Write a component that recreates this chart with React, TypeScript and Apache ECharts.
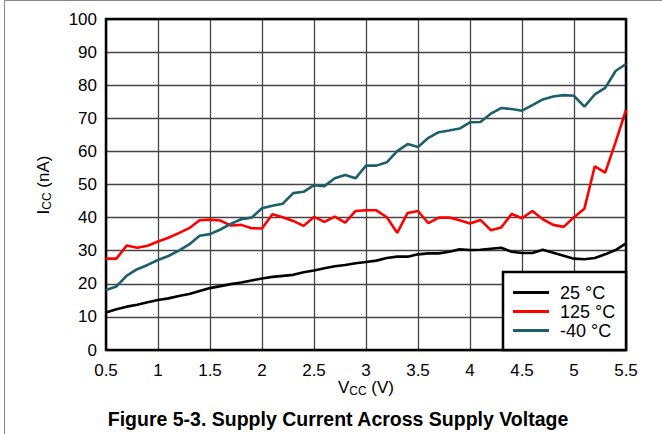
import React, { useEffect, useRef } from "react";
import * as echarts from "echarts";

const voltages = [
  0.5, 0.6, 0.7, 0.8, 0.9, 1.0, 1.1, 1.2, 1.3, 1.4,
  1.5, 1.6, 1.7, 1.8, 1.9, 2.0, 2.1, 2.2, 2.3, 2.4,
  2.5, 2.6, 2.7, 2.8, 2.9, 3.0, 3.1, 3.2, 3.3, 3.4,
  3.5, 3.6, 3.7, 3.8, 3.9, 4.0, 4.1, 4.2, 4.3, 4.4,
  4.5, 4.6, 4.7, 4.8, 4.9, 5.0, 5.1, 5.2, 5.3, 5.4, 5.5,
];

const icc25 = [
  11.3, 12.3, 13.1, 13.7, 14.4, 15.1, 15.6, 16.3, 16.9, 17.8,
  18.7, 19.3, 19.9, 20.4, 21.0, 21.6, 22.1, 22.4, 22.7, 23.5,
  24.0, 24.7, 25.3, 25.7, 26.2, 26.6, 27.0, 27.8, 28.2, 28.2,
  28.9, 29.2, 29.2, 29.7, 30.4, 30.2, 30.3, 30.6, 30.9, 29.7,
  29.3, 29.3, 30.3, 29.4, 28.5, 27.6, 27.4, 27.8, 28.9, 30.2, 32.2,
];

const icc125 = [
  27.6, 27.6, 31.6, 30.9, 31.5, 32.8, 33.9, 35.3, 36.8, 39.2,
  39.4, 39.1, 37.6, 37.8, 36.8, 36.7, 41.0, 40.1, 39.0, 37.5,
  40.2, 38.7, 40.3, 38.5, 42.0, 42.2, 42.2, 40.1, 35.4, 41.4,
  42.0, 38.3, 40.0, 40.0, 39.2, 38.2, 39.3, 36.2, 37.0, 41.1,
  39.8, 42.0, 39.5, 37.8, 37.2, 40.1, 42.7, 55.5, 53.6, 62.8, 72.5,
];

const iccM40 = [
  18.1, 19.2, 22.5, 24.4, 25.7, 27.2, 28.4, 30.0, 31.9, 34.5,
  35.0, 36.4, 38.1, 39.5, 40.0, 42.8, 43.6, 44.2, 47.4, 47.8,
  49.8, 49.5, 51.9, 52.9, 51.9, 55.7, 55.7, 56.7, 60.1, 62.2,
  61.3, 64.1, 65.8, 66.3, 66.9, 68.8, 68.9, 71.4, 73.1, 72.8,
  72.3, 74.0, 75.7, 76.6, 77.0, 76.8, 73.5, 77.2, 79.2, 84.3, 86.4,
];

const seriesNames = ["25 °C", "125 °C", "-40 °C"];
const seriesColors = ["#000000", "#ff0000", "#1b5f6d"];

const FONT = "'Liberation Sans', Arial, sans-serif";

export default function App() {
  const ref = useRef<HTMLDivElement>(null);

  useEffect(() => {
    if (!ref.current) return;
    const chart = echarts.init(ref.current, null, { renderer: "svg" });
    const mk = (vals: number[]) => voltages.map((v, i) => [v, vals[i]]);
    const allData = [icc25, icc125, iccM40];

    chart.setOption({
      animation: false,
      backgroundColor: "#ffffff",
      textStyle: { fontFamily: FONT },
      grid: {
        left: 106,
        top: 19,
        width: 520,
        height: 331,
        show: true,
        borderColor: "#000",
        borderWidth: 2.5,
        z: 3,
      },
      xAxis: {
        type: "value",
        min: 0.5,
        max: 5.5,
        interval: 0.5,
        axisLine: { show: false },
        axisTick: { show: false },
        axisLabel: { color: "#000", fontSize: 17, margin: 12, fontFamily: FONT },
        splitLine: { show: true, lineStyle: { color: "#444", width: 1.3 } },
      },
      yAxis: {
        type: "value",
        min: 0,
        max: 100,
        interval: 10,
        axisLine: { show: false },
        axisTick: { show: false },
        axisLabel: { color: "#000", fontSize: 17, margin: 9, fontFamily: FONT },
        splitLine: { show: true, lineStyle: { color: "#444", width: 1.3 } },
      },
      legend: {
        orient: "vertical",
        left: 513,
        top: 283,
        padding: 0,
        itemGap: 0,
        itemWidth: 36,
        itemHeight: 3,
        icon: "rect",
        z: 20,
        textStyle: { color: "#000", fontSize: 18, lineHeight: 19, fontFamily: FONT, padding: [0, 0, 0, 6] },
        data: seriesNames,
      },
      graphic: [
        {
          type: "line",
          shape: { x1: 4.5, y1: 0, x2: 4.5, y2: 434 },
          style: { stroke: "#888", lineWidth: 1 },
        },
        {
          type: "line",
          shape: { x1: 4, y1: 0.5, x2: 662, y2: 0.5 },
          style: { stroke: "#888", lineWidth: 1 },
        },
        {
          type: "rect",
          z: 10,
          shape: { x: 503, y: 272, width: 123, height: 78 },
          style: { fill: "#fff", stroke: "#000", lineWidth: 2.5 },
        },
        {
          type: "text",
          x: 366,
          y: 387,
          style: {
            text: "{n|V}{s|CC}{n| (V)}",
            align: "center",
            verticalAlign: "middle",
            fill: "#000",
            fontFamily: FONT,
            rich: {
              n: { fontSize: 17, fontFamily: FONT, lineHeight: 20 },
              s: { fontSize: 12, fontFamily: FONT, verticalAlign: "bottom", lineHeight: 14 },
            },
          },
        },
        {
          type: "text",
          x: 43,
          y: 185,
          rotation: Math.PI / 2,
          style: {
            text: "{n|I}{s|CC}{n| (nA)}",
            align: "center",
            verticalAlign: "middle",
            fill: "#000",
            fontFamily: FONT,
            rich: {
              n: { fontSize: 17, fontFamily: FONT, lineHeight: 20 },
              s: { fontSize: 12, fontFamily: FONT, verticalAlign: "bottom", lineHeight: 14 },
            },
          },
        },
        {
          type: "text",
          x: 338,
          y: 419,
          style: {
            text: "Figure 5-3. Supply Current Across Supply Voltage",
            align: "center",
            verticalAlign: "middle",
            fill: "#000",
            fontFamily: FONT,
            fontSize: 19.5,
            fontWeight: "bold",
          },
        },
      ],
      series: seriesNames.map((name, i) => ({
        name,
        type: "line",
        data: mk(allData[i]),
        showSymbol: false,
        symbol: "none",
        color: seriesColors[i],
        lineStyle: { color: seriesColors[i], width: 2.6 },
        z: 5,
      })),
    });

    return () => chart.dispose();
  }, []);

  return (
    <div
      ref={ref}
      style={{ position: "fixed", left: 0, top: 0, width: 662, height: 434, background: "#fff" }}
    />
  );
}
